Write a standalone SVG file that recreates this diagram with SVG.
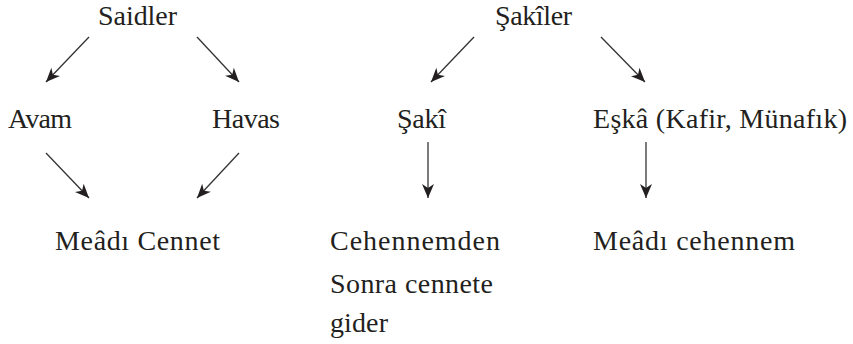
<svg xmlns="http://www.w3.org/2000/svg" width="853" height="344" viewBox="0 0 853 344">
<style>
text{font-family:"Liberation Serif","Times New Roman",serif;font-size:28px;fill:#231f20}
.c line{stroke:#333;stroke-width:1.3;fill:none;marker-end:url(#ah)}
</style>
<defs>
<marker id="ah" markerUnits="userSpaceOnUse" viewBox="-15 -7 16 14" refX="0" refY="0" markerWidth="16" markerHeight="14" orient="auto">
<path d="M0,0 L-14,-6 L-10,0 L-14,6 Z" fill="#231f20"/>
</marker>
</defs>
<rect width="853" height="344" fill="#fff"/>
<g class="c" id="connectors">
<line x1="89" y1="37" x2="46" y2="82"/>
<line x1="197" y1="37" x2="239" y2="82"/>
<line x1="46" y1="153" x2="89" y2="198"/>
<line x1="239" y1="153" x2="197" y2="198"/>
<line x1="474" y1="37" x2="431" y2="82"/>
<line x1="601" y1="37" x2="645" y2="82"/>
<line x1="428" y1="142" x2="428" y2="198"/>
<line x1="646" y1="142" x2="646" y2="198"/>
</g>
<g id="saidler"><text x="98" y="25" textLength="79" lengthAdjust="spacing">Saidler</text></g>
<g id="avam"><text x="8" y="128" textLength="64" lengthAdjust="spacing">Avam</text></g>
<g id="havas"><text x="212" y="128" textLength="68" lengthAdjust="spacing">Havas</text></g>
<g id="meadi-cennet"><text x="55" y="250" textLength="165" lengthAdjust="spacing">Meâdı Cennet</text></g>
<g id="sakiler"><text x="495" y="25" textLength="77" lengthAdjust="spacing">Şakîler</text></g>
<g id="saki"><text x="397" y="128" textLength="49" lengthAdjust="spacing">Şakî</text></g>
<g id="eska"><text x="593" y="128" textLength="254" lengthAdjust="spacing">Eşkâ (Kafir, Münafık)</text></g>
<g id="cehennemden">
<text x="330" y="250" textLength="170" lengthAdjust="spacing">Cehennemden</text>
<text x="330" y="293" textLength="163" lengthAdjust="spacing">Sonra cennete</text>
<text x="330" y="332" textLength="58" lengthAdjust="spacing">gider</text>
</g>
<g id="meadi-cehennem"><text x="593" y="250" textLength="202" lengthAdjust="spacing">Meâdı cehennem</text></g>
</svg>
